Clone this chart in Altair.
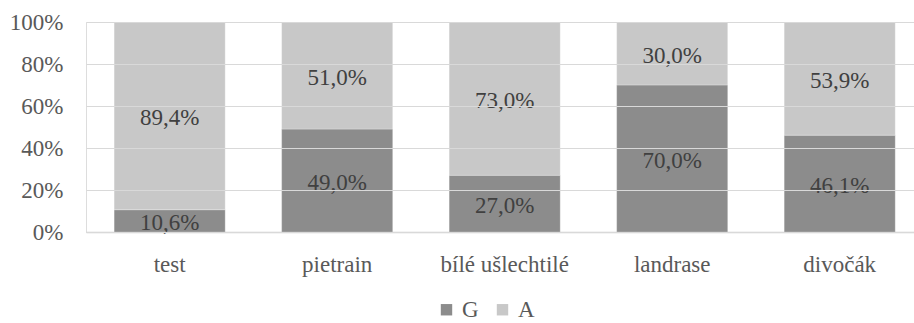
import altair as alt
import pandas as pd

categories = ["test", "pietrain", "bílé ušlechtilé", "landrase", "divočák"]
g_values = [10.6, 49.0, 27.0, 70.0, 46.1]
a_values = [89.4, 51.0, 73.0, 30.0, 53.9]
series = ["G", "A"]
colors = ["#8c8c8c", "#c8c8c8"]

rows = []
for i, c in enumerate(categories):
    rows.append({"cat": c, "series": "G", "value": g_values[i], "ord": 0})
    rows.append({"cat": c, "series": "A", "value": a_values[i], "ord": 1})
df = pd.DataFrame(rows)

font = "Liberation Serif"
fs = 23

base = alt.Chart(df).transform_calculate(
    label="replace(format(datum.value, '.1f'), '.', ',') + '%'"
).transform_stack(
    stack="value", groupby=["cat"], as_=["y0", "y1"], sort=[alt.SortField("ord", order="ascending")]
).transform_calculate(
    mid="(datum.y0 + datum.y1) / 2"
)

x = alt.X("cat:N", sort=categories, title=None,
          scale=alt.Scale(paddingInner=0.337, paddingOuter=0.14, align=0.6),
          axis=alt.Axis(labelAngle=0, labelFont=font, labelFontSize=fs, labelColor="#595959",
                        labelPadding=21, ticks=False, domainColor="#d0d0d0", domainWidth=1.5, grid=False))

bars = base.mark_bar(stroke="#ffffff", strokeOpacity=0.25, strokeWidth=1).encode(
    x=x,
    y=alt.Y("y0:Q", title=None, scale=alt.Scale(domain=[0, 100]),
            axis=alt.Axis(values=[0, 20, 40, 60, 80, 100], labelExpr="datum.value + '%'",
                          labelFont=font, labelFontSize=fs, labelColor="#595959",
                          ticks=False, domain=False, gridColor="#d9d9d9", gridWidth=1.2,
                          labelPadding=23, zindex=1)),
    y2="y1:Q",
    color=alt.Color("series:N", sort=series,
                    scale=alt.Scale(domain=series, range=colors),
                    legend=alt.Legend(title=None, orient="none", direction="horizontal",
                                      legendX=349, legendY=276, symbolType="square",
                                      symbolSize=130, symbolStrokeWidth=0,
                                      labelFont=font, labelFontSize=fs, labelColor="#595959",
                                      columnPadding=12, labelOffset=4)),
)

labels = base.mark_text(font=font, fontSize=fs, color="#404040", dy=2).encode(
    x=alt.X("cat:N", sort=categories),
    y=alt.Y("mid:Q"),
    text="label:N",
)

chart = alt.layer(bars, labels).properties(
    width=828, height=210,
    autosize=alt.AutoSizeParams(type="none"),
    padding={"left": 86, "top": 22, "right": 0, "bottom": 91},
).configure_view(stroke=None).configure(background="white")

chart.save("out.html", embed_options={"renderer": "svg", "actions": False})
